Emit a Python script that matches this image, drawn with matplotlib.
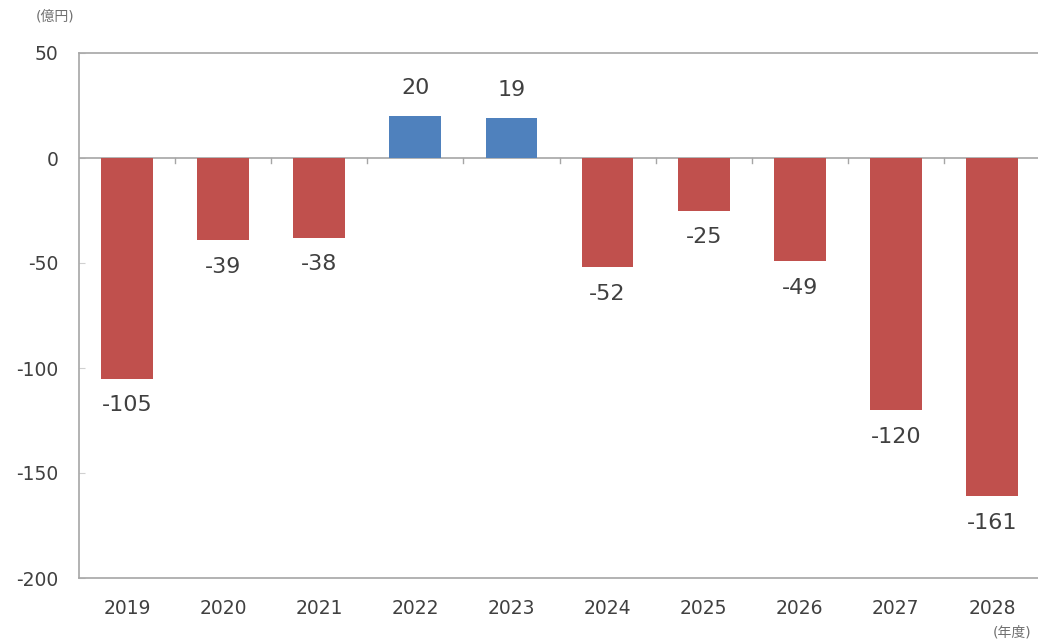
import matplotlib
matplotlib.use("Agg")
from matplotlib import pyplot as plt
import numpy as np

plt.rcParams['font.family'] = ['DejaVu Sans', 'Noto Sans CJK JP']
plt.rcParams['axes.unicode_minus'] = False

# fiscal years and balance (100 million yen)
years = ['2019', '2020', '2021', '2022', '2023', '2024', '2025', '2026', '2027', '2028']
balance = [-105, -39, -38, 20, 19, -52, -25, -49, -120, -161]

RED = '#C0504D'
BLUE = '#4F81BD'
TEXT = '#404040'
GRID = '#A6A6A6'

fig = plt.figure(figsize=(10.38, 6.43), dpi=100)
ax = fig.add_axes([79 / 1038, 65 / 643, 961 / 1038, 525 / 643])

x = np.arange(len(years))
colors = [BLUE if v >= 0 else RED for v in balance]
ax.bar(x, balance, width=0.54, color=colors, zorder=3)

# value labels: above positive bars, below negative ones
for xi, v in zip(x, balance):
    if v >= 0:
        ax.annotate(str(v), (xi, v), xytext=(0, 13), textcoords='offset points',
                    ha='center', va='bottom', fontsize=16, color=TEXT)
    else:
        ax.annotate(str(v), (xi, v), xytext=(0, -12), textcoords='offset points',
                    ha='center', va='top', fontsize=16, color=TEXT)

ax.set_xlim(-0.5, len(years) - 0.5)
ax.set_ylim(-200, 50)
ax.set_yticks(np.arange(-200, 51, 50))
ax.set_xticks(x)
ax.set_xticklabels(years)

# zero line with category separator ticks
ax.axhline(0, color=GRID, lw=1.2, zorder=2)
for b in np.arange(0.5, len(years) - 0.5, 1.0):
    ax.plot([b, b], [0, -2.5], color=GRID, lw=1, zorder=2)

for side in ['left', 'top', 'bottom']:
    ax.spines[side].set_color(GRID)
    ax.spines[side].set_linewidth(1.2)
ax.spines['right'].set_visible(False)

ax.tick_params(axis='y', direction='in', length=4, color='#D0D0D0',
               labelsize=13.5, labelcolor=TEXT, pad=15)
ax.tick_params(axis='x', length=0, labelsize=13.5, labelcolor=TEXT, pad=15)

fig.text(55 / 1038, 1 - 17 / 643, '(億円)', ha='center', va='center',
         fontsize=10, color='#707070')
fig.text(1012 / 1038, 1 - 632 / 643, '(年度)', ha='center', va='center',
         fontsize=10, color='#707070')

fig.savefig('out.png', dpi=100)
